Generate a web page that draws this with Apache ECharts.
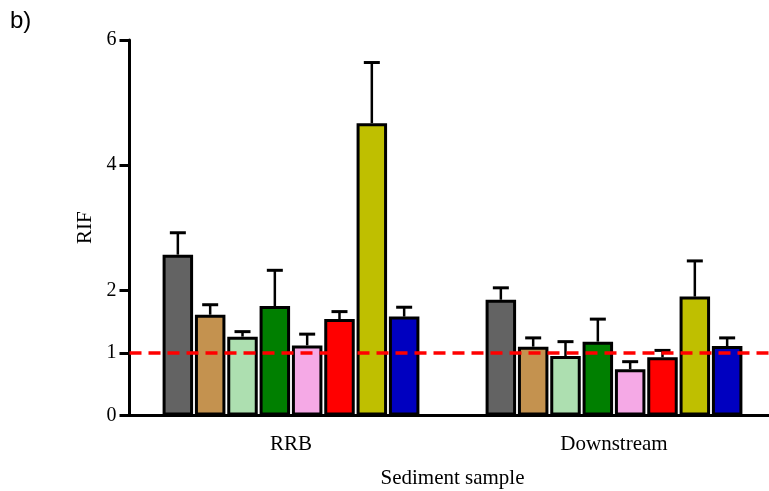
<!DOCTYPE html>
<html>
<head>
<meta charset="utf-8">
<script src="https://cdn.jsdelivr.net/npm/echarts@6/dist/echarts.min.js"></script>
<style>html,body{margin:0;padding:0;background:#fff}#c{width:769px;height:491px}</style>
</head>
<body>
<div id="c"></div>
<script>
var categories = ['RRB', 'Downstream'];
var seriesColors = ['#636363', '#C4924F', '#ADDFB0', '#007F00', '#F5A9E6', '#FF0000', '#BFBF00', '#0000C0'];
// mean values per series: [RRB, Downstream]
var meanGray   = [2.57, 1.85];
var meanTan    = [1.61, 1.10];
var meanLtGrn  = [1.26, 0.95];
var meanGreen  = [1.75, 1.18];
var meanPink   = [1.12, 0.74];
var meanRed    = [1.54, 0.93];
var meanYellow = [4.67, 1.90];
var meanBlue   = [1.58, 1.11];
// upper error bar tops
var errGray    = [2.92, 2.04];
var errTan     = [1.77, 1.24];
var errLtGrn   = [1.34, 1.18];
var errGreen   = [2.32, 1.54];
var errPink    = [1.30, 0.86];
var errRed     = [1.66, 1.04];
var errYellow  = [5.64, 2.47];
var errBlue    = [1.73, 1.24];
var yTicks = [0, 1, 2, 4, 6];
var refLine = 1;

var means = [meanGray, meanTan, meanLtGrn, meanGreen, meanPink, meanRed, meanYellow, meanBlue];
var tops = [errGray, errTan, errLtGrn, errGreen, errPink, errRed, errYellow, errBlue];

var barW = 30.5, gapPct = 0.06;
var pitch = barW * (1 + gapPct);
var font = 'Liberation Serif';

var series = [];
means.forEach(function (m, i) {
  var s = {
    type: 'bar',
    data: m,
    barWidth: barW,
    barGap: (gapPct * 100) + '%',
    itemStyle: { color: seriesColors[i], borderColor: '#000', borderWidth: 3 },
    z: 3,
    silent: true
  };
  if (i === 0) {
    s.markLine = {
      silent: true,
      symbol: ['none', 'none'],
      label: { show: false },
      lineStyle: { color: '#FF0000', type: [12, 7], width: 3.5 },
      data: [{ yAxis: refLine }],
      z: 10
    };
  }
  series.push(s);
});
means.forEach(function (m, i) {
  var d = m.map(function (v, k) { return [k, v, tops[i][k]]; });
  series.push({
    type: 'custom',
    data: d,
    encode: { x: 0, y: [1, 2] },
    z: 2,
    silent: true,
    renderItem: function (params, api) {
      var c = api.value(0);
      var base = api.coord([c, api.value(1)]);
      var top = api.coord([c, api.value(2)]);
      var x = base[0] + (i - 3.5) * pitch;
      return {
        type: 'group',
        children: [
          { type: 'line', shape: { x1: x, y1: base[1], x2: x, y2: top[1] }, style: { stroke: '#000', lineWidth: 2.5 } },
          { type: 'line', shape: { x1: x - 8, y1: top[1], x2: x + 8, y2: top[1] }, style: { stroke: '#000', lineWidth: 3 } }
        ]
      };
    }
  });
});

var chart = echarts.init(document.getElementById('c'));
chart.setOption({
  animation: false,
  backgroundColor: '#fff',
  grid: { left: 129.5, right: -6.5, top: 40, bottom: 75.5, containLabel: false, outerBoundsMode: 'none' },
  graphic: [{
    type: 'text', left: 10, top: 9,
    style: { text: 'b)', font: '24px "Liberation Sans"', fill: '#000' }
  }],
  xAxis: {
    type: 'category',
    data: categories,
    name: 'Sediment sample',
    nameLocation: 'middle',
    nameGap: 52,
    nameTextStyle: { fontFamily: font, fontSize: 21, color: '#000' },
    axisLine: { lineStyle: { color: '#000', width: 3 } },
    axisTick: { alignWithLabel: true, length: 10, lineStyle: { color: '#000', width: 3 } },
    axisLabel: { fontFamily: font, fontSize: 21, color: '#000', margin: 18 }
  },
  yAxis: {
    type: 'value',
    min: 0, max: 6,
    name: 'RIF',
    nameLocation: 'middle',
    nameGap: 32,
    nameTextStyle: { fontFamily: font, fontSize: 21, color: '#000' },
    splitLine: { show: false },
    axisLine: { show: true, lineStyle: { color: '#000', width: 3 } },
    axisTick: { show: true, length: 10, customValues: yTicks, lineStyle: { color: '#000', width: 3 } },
    axisLabel: { fontFamily: font, fontSize: 20, color: '#000', margin: 13, customValues: yTicks }
  },
  series: series
});
</script>
</body>
</html>
